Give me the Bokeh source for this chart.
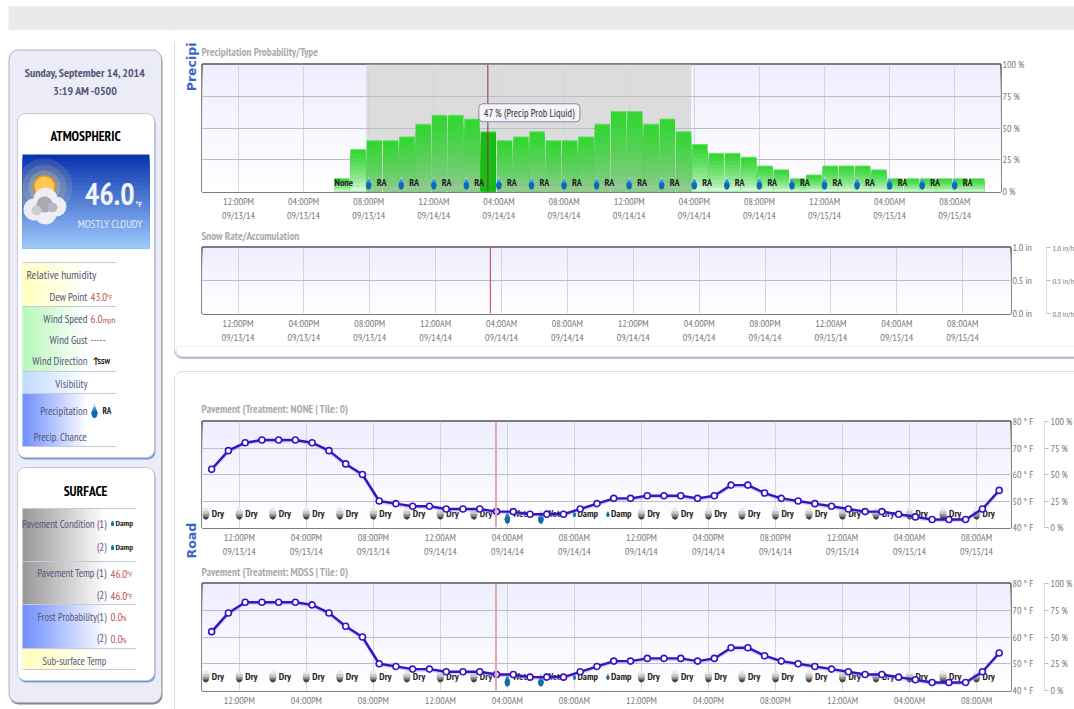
import math
import numpy as np
from bokeh.plotting import figure
from bokeh.layouts import column, row
from bokeh.models import (Label, LinearAxis, FixedTicker, Range1d, Span, Title)
from bokeh.core.properties import value
from bokeh.embed import file_html
from bokeh.resources import INLINE

NARROW = "PT Sans Narrow, Roboto Condensed, Lato, sans-serif"

# ---------------- data ----------------
tick_hours = [12, 16, 20, 24, 28, 32, 36, 40, 44, 48, 52, 56]
time_labels = ["12:00PM", "04:00PM", "08:00PM", "12:00AM", "04:00AM", "08:00AM",
               "12:00PM", "04:00PM", "08:00PM", "12:00AM", "04:00AM", "08:00AM"]
date_labels = ["09/13/14", "09/13/14", "09/13/14", "09/14/14", "09/14/14", "09/14/14",
               "09/14/14", "09/14/14", "09/14/14", "09/15/14", "09/15/14", "09/15/14"]
now_hour = 27.32
shade_start, shade_end = 19.85, 39.8

precip_start = 17.85
precip_prob = [10, 33, 40, 40, 43, 53, 60, 60, 57, 47, 40, 43, 47, 40, 40, 43, 53, 63, 63, 53,
               57, 47, 37, 30, 30, 27, 20, 17, 10, 13, 20, 20, 20, 17, 10, 10, 10, 10, 10, 10]
highlight_bar = 9
precip_type_hours = [20, 22, 24, 26, 28, 30, 32, 34, 36, 38, 40, 42, 44, 46, 48, 50, 52, 54, 56]

road_start = 10.35
pavement_none = [62, 69, 72, 73, 73, 73, 72, 69, 64, 60, 50, 49, 48, 48, 47, 47, 47, 46, 46, 45,
                 45, 45, 47, 49, 51, 51, 52, 52, 52, 51, 52, 56, 56, 53, 51, 50, 49, 48, 47, 46,
                 46, 45, 44, 43, 43, 43, 47, 54]
pavement_mdss = [62, 69, 73, 73, 73, 73, 72, 69, 64, 60, 50, 49, 48, 48, 47, 47, 47, 46, 46, 45,
                 45, 45, 47, 49, 51, 51, 52, 52, 52, 51, 52, 56, 56, 53, 51, 50, 49, 48, 47, 46,
                 46, 45, 44, 43, 43, 43, 47, 54]
cond_hours = list(range(10, 58, 2))
conditions = ["Dry"] * 9 + ["Wet"] * 2 + ["Damp"] * 2 + ["Dry"] * 11

pct_ticks = [0, 25, 50, 75, 100]
temp_ticks = [40, 50, 60, 70, 80]
snow_ticks = [0.0, 0.5, 1.0]

# ---------------- helpers ----------------
def lerp(c0, c1, t):
    a = [int(c0[i:i + 2], 16) for i in (1, 3, 5)]
    b = [int(c1[i:i + 2], 16) for i in (1, 3, 5)]
    return "#%02x%02x%02x" % tuple(round(a[i] + (b[i] - a[i]) * t) for i in range(3))

def vgrad(p, l, r, t, b, c0, c1, n=24, **kw):
    ys = np.linspace(t, b, n + 1)
    p.quad(left=[l] * n, right=[r] * n, top=list(ys[:-1]), bottom=[b] * n,
           fill_color=[lerp(c0, c1, i / (n - 1)) for i in range(n)], line_color=None, **kw)

def hgrad(p, l, r, t, b, c0, c1, n=30, **kw):
    xs = np.linspace(l, r, n + 1)
    p.quad(left=list(xs[:-1]), right=[r] * n, top=[t] * n, bottom=[b] * n,
           fill_color=[lerp(c0, c1, i / (n - 1)) for i in range(n)], line_color=None, **kw)

def txt(p, x, y, s, size=12, color="#55557a", align="left", font=NARROW, style="normal", **kw):
    p.text(x=[x], y=[y], text=[s], text_font=value(font), text_font_size=f"{size}px",
           text_color=color, text_align=align, text_baseline="middle", text_font_style=style, **kw)

def drop(p, x, y, w, h, pxh, pxv, dark="#0a6cb4", mid="#3a90cc", light="#a4d0ea"):
    """Tear-drop centred on (x,y); w and h in pixels."""
    for lim, col in [(1.0, light), (.72, mid), (.5, dark)]:
        s = np.linspace(0, lim, 16)
        half = np.where(s < .35, (w / 2) * np.sqrt(np.clip(1 - (1 - s / .35) ** 2, 0, 1)),
                        (w / 2) * np.clip(1 - (s - .35) / .65, 0, 1) ** 1.1)
        yy = -h / 2 + h * s
        xs = [x + d / pxh for d in half] + [x - d / pxh for d in half[::-1]]
        ys = [y + d / pxv for d in yy] + [y + d / pxv for d in yy[::-1]]
        p.patch(xs, ys, fill_color=col, line_color=None)

def ball(p, x, y, rx, ry, pxh, pxv):
    th = np.linspace(0, 2 * np.pi, 40)
    for lim, col in [(1, "#e8e8e8"), (.35, "#c6c6c6"), (-.15, "#8c8c8c"), (-.55, "#444444")]:
        ss = np.minimum(np.sin(th), lim)
        half = np.sqrt(np.clip(1 - ss ** 2, 0, 1))
        xx = [x + rx * half[i] * (1 if math.cos(th[i]) >= 0 else -1) / pxh for i in range(len(th))]
        yy = [y + ry * ss[i] / pxv for i in range(len(th))]
        p.patch(xx, yy, fill_color=col, line_color=None)

def panels(p):
    """The two white page panels, drawn in page pixels, so that they continue from figure to figure."""
    p.quad(left=[174], right=[1500], top=[20], bottom=[358], fill_color="#bcbcd6", line_color="#bcbcd6", border_radius=8)
    p.quad(left=[174], right=[1500], top=[20], bottom=[356], fill_color="#ffffff", line_color="#dcdce4", border_radius=8)
    p.quad(left=[174], right=[1500], top=[371], bottom=[1200], fill_color="#ffffff", line_color="#dcdce4", border_radius=8)

def chart(title, fig_h, top_space, head_standoff, frame_h, frame_w, xl, xr, y0, y1, yticks, ylabels,
          y2=None, y2ticks=None, y2labels=None, gap=0, dates=True, bottom=0, y2size="10px"):
    p = figure(width=898, height=fig_h, frame_width=frame_w, frame_height=frame_h,
               x_range=(xl, xr), y_range=(y0, y1), y_axis_location="right",
               output_backend="svg", toolbar_location=None,
               min_border_left=26, min_border_top=top_space, min_border_right=0, min_border_bottom=bottom,
               background_fill_color="#ffffff", border_fill_color="#ffffff",
               outline_line_color="#555555", outline_line_width=2.4)
    p.title = Title(text=title, align="left", text_font=NARROW, text_font_size="11px",
                    text_font_style="bold", text_color="#ababab", standoff=head_standoff, offset=-1,
                    vertical_align="top")
    vgrad(p, xl, xr, y1, y0, "#eeeeff", "#ffffff", level="image")
    axes = [(p.xaxis[0], time_labels, 3)]
    if dates:
        second = LinearAxis()
        p.add_layout(second, "below")
        axes.append((second, date_labels, -2))
    for a, labels, off in axes:
        a.ticker = FixedTicker(ticks=tick_hours)
        a.major_label_overrides = dict(zip(tick_hours, labels))
        a.axis_line_color = None
        a.major_tick_line_color = None
        a.minor_tick_line_color = None
        a.major_tick_in = 0
        a.major_tick_out = 0
        a.major_label_standoff = off
        a.major_label_text_font = NARROW
        a.major_label_text_font_size = "10px"
        a.major_label_text_color = "#777777"
        a.major_label_text_line_height = 1.0
    ya = p.yaxis[0]
    ya.ticker = FixedTicker(ticks=yticks)
    ya.major_label_overrides = dict(zip(yticks, ylabels))
    ya.axis_line_color = None
    ya.major_tick_line_color = None
    ya.minor_tick_line_color = None
    ya.major_tick_in = 0
    ya.major_tick_out = 0
    ya.major_label_standoff = 2
    ya.major_label_text_font = NARROW
    ya.major_label_text_font_size = "10px"
    ya.major_label_text_color = "#777777"
    p.xgrid[0].ticker = FixedTicker(ticks=tick_hours)
    p.xgrid[0].grid_line_color = "#d4d4de"
    p.ygrid[0].ticker = FixedTicker(ticks=yticks)
    p.ygrid[0].grid_line_color = "#bcbcc4"
    if y2 is not None:
        ya.axis_label = " "
        ya.axis_label_standoff = gap
        ya.axis_label_text_font_size = "1px"
        p.extra_y_ranges = {"second": Range1d(*y2)}
        b = LinearAxis(y_range_name="second", ticker=FixedTicker(ticks=y2ticks))
        b.major_label_overrides = dict(zip(y2ticks, y2labels))
        b.axis_line_color = "#dddddd"
        b.major_tick_line_color = "#bbbbbb"
        b.major_tick_in = 0
        b.major_tick_out = 4
        b.minor_tick_line_color = None
        b.major_label_standoff = 2
        b.major_label_text_font = NARROW
        b.major_label_text_font_size = y2size
        b.major_label_text_color = "#777777"
        p.add_layout(b, "right")
    return p

def road(p, series, pxh, pxv):
    hours = [road_start + i for i in range(len(series))]
    base = 45.3
    for h, c in zip(cond_hours, conditions):
        if c == "Dry":
            ball(p, h, base, 3.6, 6, pxh, pxv)
        elif c == "Wet":
            drop(p, h, base - 1.2, 5.4, 14, pxh, pxv, "#0f6ea8", "#2a80b8", "#8fbfe0")
        else:
            drop(p, h, base, 3, 7, pxh, pxv, "#1470b0", "#1470b0", "#8fbfe0")
    for h, c in zip(cond_hours, conditions):
        dx = {"Dry": 6, "Wet": 5, "Damp": 3}[c]
        txt(p, h, base, c, size=10, color="#222222", style="bold", x_offset=dx)
    p.line(hours, [v - 0.4 for v in series], line_color="#a8a0d0", line_width=3, line_alpha=.45)
    p.line(hours, series, line_color="#3a10c8", line_width=2.4)
    p.scatter(hours, series, size=6, fill_color="white", line_color="#3a10c8", line_width=1.6)
    p.add_layout(Span(location=now_hour, dimension="height", line_color="#e4a8a8", line_width=2))

def side_title(p, text, align, offset):
    p.add_layout(Title(text=text, align=align, offset=offset, standoff=3, text_font="DejaVu Sans",
                       text_font_style="bold", text_font_size="12.5px", text_color="#3d66c8",
                       vertical_align="top", text_line_height=0.9), "left")

def blank(width, height, x_range, y_range):
    q = figure(width=width, height=height, x_range=x_range, y_range=y_range, output_backend="svg",
               toolbar_location=None, min_border=0, outline_line_color=None,
               background_fill_color="#ffffff", border_fill_color="#ffffff",
               x_axis_location=None, y_axis_location=None)
    q.grid.visible = False
    return q

# ---------------- top bar ----------------
bar = blank(1074, 30, (0, 1074), (30, 0))
bar.quad(left=[8], right=[1074], top=[6], bottom=[30], fill_color="#e9eaea", line_color=None)

# ---------------- left side panel (drawn in page pixels) ----------------
s = blank(176, 679, (0, 176), (709, 30))
panels(s)
s.quad(left=[170], right=[176], top=[29], bottom=[41], fill_color="#ffffff", line_color=None)
s.quad(left=[9], right=[162], top=[51], bottom=[704], fill_color="#888888", line_color=None, border_radius=9)
s.quad(left=[8.5], right=[161], top=[49.5], bottom=[702], fill_color="#ebecf7", line_color="#b0b0b8", border_radius=9)
txt(s, 85, 72, "Sunday, September 14, 2014", 11.8, "#55557a", "center", style="bold")
txt(s, 85, 90, "3:19 AM -0500", 11.8, "#55557a", "center", style="bold")

for top, bottom in [(113, 457), (467, 680)]:
    s.quad(left=[18], right=[155], top=[top + 1], bottom=[bottom + 2], fill_color="#6f9fd0", line_color=None, border_radius=8)
    s.quad(left=[17], right=[154], top=[top], bottom=[bottom], fill_color="#ffffff", line_color="#c8c8d0", border_radius=8)

txt(s, 85, 135, "ATMOSPHERIC", 13.5, "#000000", "center", style="bold")
txt(s, 85, 490, "SURFACE", 13.5, "#000000", "center", style="bold")

# weather tile
vgrad(s, 22, 149, 154, 248, "#0a35b0", "#9cc8fb")
for r, a in [(56, .12), (44, .14), (32, .2)]:
    s.scatter([44], [186], size=r, fill_color="#ffe890", fill_alpha=a, line_color=None)
s.circle([44], [186], radius=10.5, fill_color="#ffc850", line_color="#e89a10", line_width=1.5)
for cx, cy, r, c in [(34, 209, 11, "#eeeef2"), (45, 199, 12, "#eeeef2"), (56, 206, 10, "#eeeef2"),
                     (45, 213, 11, "#eeeef2"), (44, 204, 8, "#a8a8b0"), (52, 207, 5, "#b8b8c0"),
                     (36, 210, 5, "#ccccd4")]:
    s.circle([cx], [cy], radius=r, fill_color=c, line_color=None)
txt(s, 134, 193, "46.0", 30, "#f4f4ff", "right", style="bold")
txt(s, 135, 203, "°F", 8, "#f4f4ff", "left", style="bold")
txt(s, 142, 223, "MOSTLY CLOUDY", 11, "#e4e8ff", "right")

# atmospheric rows
label_c = "#55557a"
val_c = "#c25555"
atmo_bands = [(262, 306, "#ffffc0"), (306, 371, "#b8f8b8"), (371, 393, "#c0dcff"), (393, 446, "#7090ff")]
for t, b, c in atmo_bands:
    hgrad(s, 22, 88, t, b, c, "#ffffff")
for y in [262, 306, 371, 393, 446]:
    s.segment([22], [y], [116], [y], line_color="#c8c8dc", line_width=1)
txt(s, 26, 274, "Relative humidity", 11.6, label_c)
for y, name in [(296, "Dew Point"), (318, "Wind Speed"), (339, "Wind Gust"), (360, "Wind Direction"),
                (383, "Visibility"), (410, "Precipitation"), (436, "Precip. Chance")]:
    txt(s, 87, y, name, 10.8, label_c, "right")
txt(s, 90, 296, "43.0", 11, val_c); txt(s, 106, 296, "°F", 8, val_c)
txt(s, 90, 318, "6.0", 11, val_c); txt(s, 102, 319, "mph", 8.5, val_c)
txt(s, 90, 339, "-----", 11, val_c)
txt(s, 92, 360, "↑", 9, "#222222", style="bold"); txt(s, 97, 360, "SSW", 8, "#222222", style="bold")
drop(s, 94, 410, 6, 15, 1, -1)
txt(s, 102, 410, "RA", 9, "#222222", style="bold")

# surface rows
surf_bands = [(508, 561, "#999999"), (561, 604, "#999999"), (604, 648, "#7090ff"), (648, 669, "#ffffc0")]
for t, b, c in surf_bands:
    hgrad(s, 22, 107, t, b, c, "#ffffff")
for y in [508, 561, 604, 648, 669]:
    s.segment([22], [y], [135], [y], line_color="#c8c8dc", line_width=1)
for y, name in [(523, "Pavement Condition (1)"), (546, "(2)"), (572, "Pavement Temp (1)"), (594, "(2)"),
                (616, "Frost Probability(1)"), (637, "(2)"), (660, "Sub-surface Temp")]:
    txt(s, 106, y, name, 10.5, label_c, "right")
for y in [522, 546]:
    drop(s, 112, y, 3, 7, 1, -1)
    txt(s, 115, y, "Damp", 8.5, "#222222", style="bold")
for y in [573, 595]:
    txt(s, 110, y, "46.0", 11, val_c); txt(s, 126, y, "°F", 8, val_c)
for y in [616, 638]:
    txt(s, 110, y, "0.0", 11, val_c); txt(s, 121, y + 1, "%", 8, val_c)

# ---------------- precipitation chart ----------------
top_gap = blank(898, 8, (176, 1074), (38, 30))

pxh1 = 16.3
xl1, xr1 = 12 - (238 - 202) / pxh1, 12 + (1001 - 238) / pxh1
A = chart("Precipitation Probability/Type", 186, 26, 7, 127, 798, xl1, xr1, 0, 100,
          pct_ticks, ["0 %", "25 %", "50 %", "75 %", "100 %"])
pxv1 = 1.27
A.quad(left=[shade_start], right=[shade_end], top=[100], bottom=[0], fill_color="#dcdcdc", line_color=None, level="image")
n = 10
for i, v in enumerate(precip_prob):
    edges = np.linspace(0, v, n + 1)
    l = precip_start + i + .03
    low = "#96c896" if shade_start - .1 <= l < shade_end else "#d8f6d8"
    cols = ["#18bc18"] * n if i == highlight_bar else [lerp(low, "#33d633", (j / (n - 1)) ** .7) for j in range(n)]
    A.quad(left=[l] * n, right=[l + .94] * n, bottom=[0] * n, top=list(edges[1:][::-1]),
           fill_color=cols[::-1], line_color=None)
    A.segment([l], [v], [l + .94], [v], line_color="#66e466", line_width=1)
for h in precip_type_hours:
    drop(A, h, 7, 5.4, 14, pxh1, pxv1)
    txt(A, h, 7, "RA", 10, "#222222", style="bold", x_offset=8)
txt(A, precip_start + .05, 7, "None", 10, "#222222", style="bold")
A.add_layout(Span(location=now_hour, dimension="height", line_color="#903030", line_width=1))
A.add_layout(Label(x=now_hour, y=62, x_offset=-9, text="47 % (Precip Prob Liquid)", text_font=NARROW,
                   text_font_size="10.5px", text_color="#333333", text_baseline="middle",
                   background_fill_color="#f4f4fa", border_line_color="#8888a8", border_line_width=1,
                   padding=(5, 2), border_radius=4))
side_title(A, "Precipi", "right", -22)

# ---------------- snow chart ----------------
pxh2 = 16.47
xl2, xr2 = 12 - (238 - 202.5) / pxh2, 12 + (1010.5 - 238) / pxh2
B = chart("Snow Rate/Accumulation", 122, 23, 6, 66, 808, xl2, xr2, 0, 1, snow_ticks,
          ["0.0 in", "0.5 in", "1.0 in"], y2=(0, 1), y2ticks=snow_ticks,
          y2labels=["0.0 in/hr", "0.5 in/hr", "1.0 in/hr"], gap=7, y2size="8px")
B.add_layout(Span(location=now_hour, dimension="height", line_color="#c04040", line_width=1))

# the strip between the two page panels
gap_strip = blank(898, 49, (176, 1074), (395, 346))
panels(gap_strip)

# ---------------- road charts ----------------
pxh3 = 16.76
xl3, xr3 = 12 - (239.3 - 202.5) / pxh3, 12 + (1010.7 - 239.3) / pxh3
C = chart("Pavement (Treatment: NONE | Tile: 0)", 165, 26, 7, 106, 808, xl3, xr3, 40, 80, temp_ticks,
          [f"{t} ° F" for t in temp_ticks], y2=(0, 100), y2ticks=pct_ticks,
          y2labels=[f"{t} %" for t in pct_ticks], gap=4)
road(C, pavement_none, pxh3, 106 / 40)
side_title(C, "Road", "left", -31)

D = chart("Pavement (Treatment: MDSS | Tile: 0)", 149, 23, 6, 107, 808, xl3, xr3, 40, 80, temp_ticks,
          [f"{t} ° F" for t in temp_ticks], y2=(0, 100), y2ticks=pct_ticks,
          y2labels=[f"{t} %" for t in pct_ticks], gap=4, dates=False, bottom=19)
road(D, pavement_mdss, pxh3, 107 / 40)

layout = column(bar, row(s, column(column(top_gap, spacing=0), A, B, column(gap_strip, spacing=0), C, D, spacing=0), spacing=0), spacing=0)
open("out.html", "w").write(file_html(layout, INLINE))
